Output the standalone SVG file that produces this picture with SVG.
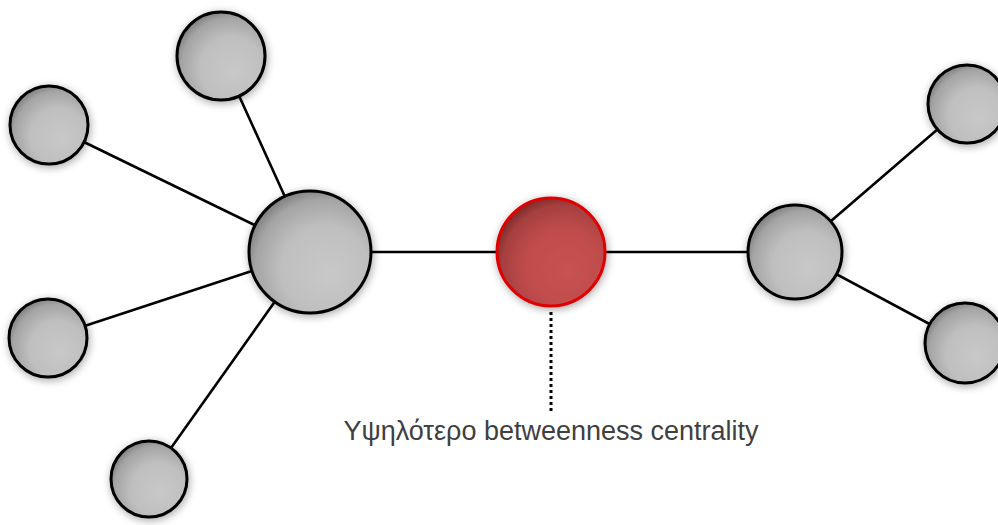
<svg xmlns="http://www.w3.org/2000/svg" width="998" height="525" viewBox="0 0 998 525">
<defs>
<radialGradient id="gGray" cx="0.6" cy="0.62" r="0.66" fx="0.66" fy="0.68">
<stop offset="0" stop-color="#c8c8c8"/>
<stop offset="0.55" stop-color="#bfbfbf"/>
<stop offset="0.85" stop-color="#a4a4a4"/>
<stop offset="1" stop-color="#7c7c7c"/>
</radialGradient>
<radialGradient id="gRed" cx="0.6" cy="0.62" r="0.66" fx="0.66" fy="0.68">
<stop offset="0" stop-color="#c65252"/>
<stop offset="0.55" stop-color="#c04c4c"/>
<stop offset="0.85" stop-color="#a63f3f"/>
<stop offset="1" stop-color="#7a2828"/>
</radialGradient>
<filter id="sh" x="-30%" y="-30%" width="160%" height="160%">
<feGaussianBlur in="SourceAlpha" stdDeviation="4"/>
<feOffset dx="1" dy="2" result="b"/>
<feComponentTransfer><feFuncA type="linear" slope="0.35"/></feComponentTransfer>
<feMerge><feMergeNode/><feMergeNode in="SourceGraphic"/></feMerge>
</filter>
</defs>
<style>
.edge{stroke:#000;stroke-width:2.6;fill:none}
.node{fill:url(#gGray);stroke:#000;stroke-width:3;filter:url(#sh)}
.red{fill:url(#gRed);stroke:#e00000;stroke-width:3;filter:url(#sh)}
.lbl{font-family:"Liberation Sans",Arial,sans-serif;font-size:27px;fill:#404040}
</style>
<rect width="998" height="525" fill="#fff"/>
<g id="connectors">
<line class="edge" x1="310" y1="252" x2="221" y2="56"/>
<line class="edge" x1="310" y1="252" x2="49" y2="125"/>
<line class="edge" x1="310" y1="252" x2="48" y2="338"/>
<line class="edge" x1="310" y1="252" x2="149" y2="479"/>
<line class="edge" x1="310" y1="252" x2="551" y2="252"/>
<line class="edge" x1="551" y1="252" x2="795" y2="252"/>
<line class="edge" x1="795" y1="252" x2="967" y2="104"/>
<line class="edge" x1="795" y1="252" x2="965" y2="343"/>
<line x1="551" y1="312" x2="551" y2="414" stroke="#000" stroke-width="3" stroke-dasharray="3 3"/>
</g>
<g id="n-top"><circle class="node" cx="221" cy="56" r="44"/></g>
<g id="n-left-top"><circle class="node" cx="49" cy="125" r="39"/></g>
<g id="n-left-bottom"><circle class="node" cx="48" cy="338" r="39"/></g>
<g id="n-bottom"><circle class="node" cx="149" cy="479" r="38"/></g>
<g id="n-hub-left"><circle class="node" cx="310" cy="252" r="61"/></g>
<g id="n-bridge"><circle class="red" cx="551" cy="252" r="54"/></g>
<g id="n-hub-right"><circle class="node" cx="795" cy="252" r="47"/></g>
<g id="n-right-top"><circle class="node" cx="967" cy="104" r="39"/></g>
<g id="n-right-bottom"><circle class="node" cx="965" cy="343" r="40"/></g>
<g id="label"><text class="lbl" x="551" y="440" text-anchor="middle">Υψηλότερο betweenness centrality</text></g>
</svg>
